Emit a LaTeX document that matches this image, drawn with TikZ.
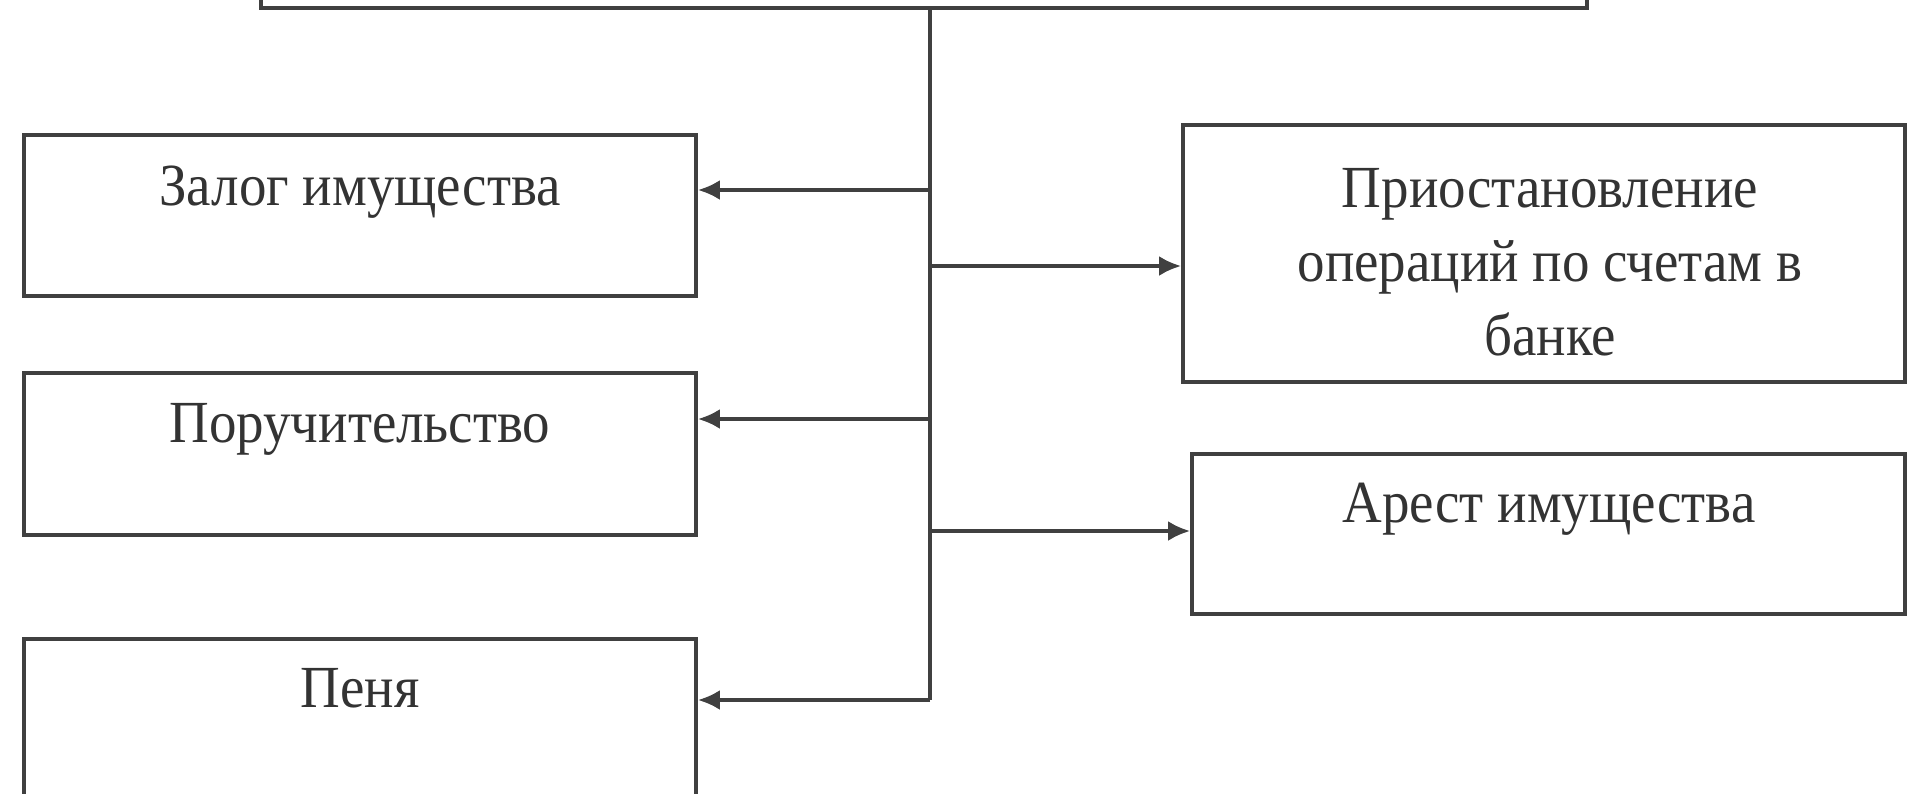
\documentclass[tikz,border=0pt]{standalone}
\usepackage{fontspec}
\setmainfont[FakeStretch=0.92]{Liberation Serif}
\usetikzlibrary{arrows.meta,positioning}

\begin{document}
\begin{tikzpicture}
	\clip (0,0) rectangle (19.07,-7.93);
	\begin{scope}[every node/.style={rectangle,draw=black!75,line width=1.1pt,inner sep=0pt}]
		\node[minimum width=13.26cm,minimum height=1.6cm] (haupt) at (9.24,0.72) {};
		\node[minimum width=6.72cm,minimum height=1.61cm] (zalog) at (3.60,-2.155) {};
		\node[minimum width=6.72cm,minimum height=1.62cm] (poruch) at (3.60,-4.54) {};
		\node[minimum width=6.72cm,minimum height=1.62cm] (penya) at (3.60,-7.20) {};
		\node[minimum width=7.22cm,minimum height=2.57cm] (priost) at (15.44,-2.535) {};
		\node[minimum width=7.13cm,minimum height=1.60cm] (arest) at (15.485,-5.34) {};
	\end{scope}

	\begin{scope}[every node/.style={align=center,font=\fontsize{17}{21}\selectfont,text=black!80}]
		\node (zalogtext) at (3.60,-1.92) {Залог имущества};
		\node (poruchtext) at (3.60,-4.29) {Поручительство};
		\node (penyatext) at (3.60,-6.88) {Пеня};
		\node (priosttext) at (15.50,-2.62) {Приостановление\\операций по счетам в\\банке};
		\node (aresttext) at (15.49,-5.09) {Арест имущества};
	\end{scope}

	\coordinate (stamm) at (9.30,-7.00);
	\coordinate (jz) at (9.30,-1.90);
	\coordinate (jp) at (9.30,-4.19);
	\coordinate (jo) at (9.30,-2.66);
	\coordinate (ja) at (9.30,-5.31);

	\begin{scope}[>={Latex[length=2.2mm,width=2mm]},line width=1pt,draw=black!75]
		\draw (haupt.south -| stamm) -- (stamm);
		\draw[->] (stamm) -- (penya.east |- stamm);
		\draw[->] (jz) -- (zalog.east |- jz);
		\draw[->] (jp) -- (poruch.east |- jp);
		\draw[->] (jo) -- (priost.west |- jo);
		\draw[->] (ja) -- (arest.west |- ja);
	\end{scope}
\end{tikzpicture}
\end{document}
